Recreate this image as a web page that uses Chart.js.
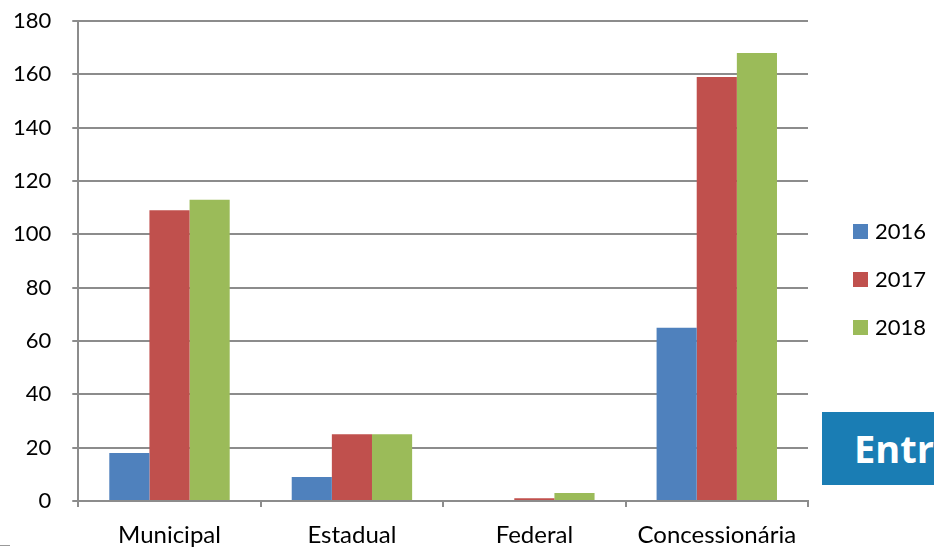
<!DOCTYPE html>
<html>
<head>
<meta charset="utf-8">
<script src="https://cdn.jsdelivr.net/npm/chart.js@4"></script>
<style>
  html, body { margin: 0; padding: 0; background: #fff; }
  #wrap { position: relative; width: 934px; height: 548px; overflow: hidden; }
  #legend { position: absolute; left: 853px; top: 217px; font-family: Lato, "Noto Sans", sans-serif; font-size: 22px; color: #000; }
  #legend .item { height: 48px; display: flex; align-items: flex-start; }
  #legend .box { width: 15px; height: 15px; margin-top: 7px; margin-right: 7px; }
  #banner { position: absolute; left: 822px; top: 412px; width: 140px; height: 73px; background: #1a7db4;
    color: #fff; font-family: "Open Sans", sans-serif; font-weight: bold; font-size: 38px; line-height: 73px; padding-left: 32px; box-sizing: border-box; white-space: nowrap; }
  #mark { position: absolute; left: 0; top: 545px; width: 10px; height: 1px; background: #999; }
</style>
</head>
<body>
<div id="wrap">
  <canvas id="chart" width="934" height="548"></canvas>
  <div id="legend"></div>
  <div id="banner">Entr</div>
  <div id="mark"></div>
</div>
<script>
// categories and series
const categories = ["Municipal", "Estadual", "Federal", "Concessionária"];
const seriesNames = ["2016", "2017", "2018"];
const values2016 = [18, 9, 0, 65];
const values2017 = [109, 25, 1, 159];
const values2018 = [113, 25, 3, 168];
const colors = ["#4F81BD", "#C0504D", "#9BBB59"];
const yMax = 180;
const yStep = 20;

const FONT_Y = { family: "Lato, 'Noto Sans', sans-serif", size: 22 };
const FONT_X = { family: "Lato, 'Noto Sans', sans-serif", size: 24 };
const GRID = "#8c8c8c";

const seriesValues = [values2016, values2017, values2018];

const chart = new Chart(document.getElementById("chart"), {
  type: "bar",
  data: {
    labels: categories,
    datasets: seriesNames.map((name, i) => ({
      label: name,
      data: seriesValues[i],
      backgroundColor: colors[i],
      borderWidth: 0,
      categoryPercentage: 0.66,
      barPercentage: 1.0,
    })),
  },
  options: {
    responsive: false,
    animation: false,
    layout: { padding: { left: -8, right: 126, top: 21, bottom: 0 } },
    scales: {
      x: {
        grid: { display: true, offset: true, drawOnChartArea: false, color: GRID, lineWidth: 2, tickLength: 6 },
        border: { display: true, color: GRID, width: 2 },
        ticks: { color: "#000", font: FONT_X, padding: 14 },
        afterFit: (scale) => { scale.height = 47; },
      },
      y: {
        min: 0,
        max: yMax,
        grid: { color: GRID, lineWidth: 2, tickLength: 6 },
        border: { display: true, color: GRID, width: 2 },
        ticks: { stepSize: yStep, color: "#000", font: FONT_Y, padding: 21 },
        afterFit: (scale) => { scale.paddingTop = 0; scale.paddingBottom = 0; },
      },
    },
    plugins: {
      legend: { display: false },
      tooltip: { enabled: false },
    },
  },
});

// legend on the right, built from the datasets
const legendEl = document.getElementById("legend");
chart.data.datasets.forEach((ds) => {
  const item = document.createElement("div");
  item.className = "item";
  const box = document.createElement("div");
  box.className = "box";
  box.style.background = ds.backgroundColor;
  const txt = document.createElement("span");
  txt.textContent = ds.label;
  item.appendChild(box);
  item.appendChild(txt);
  legendEl.appendChild(item);
});
</script>
</body>
</html>
